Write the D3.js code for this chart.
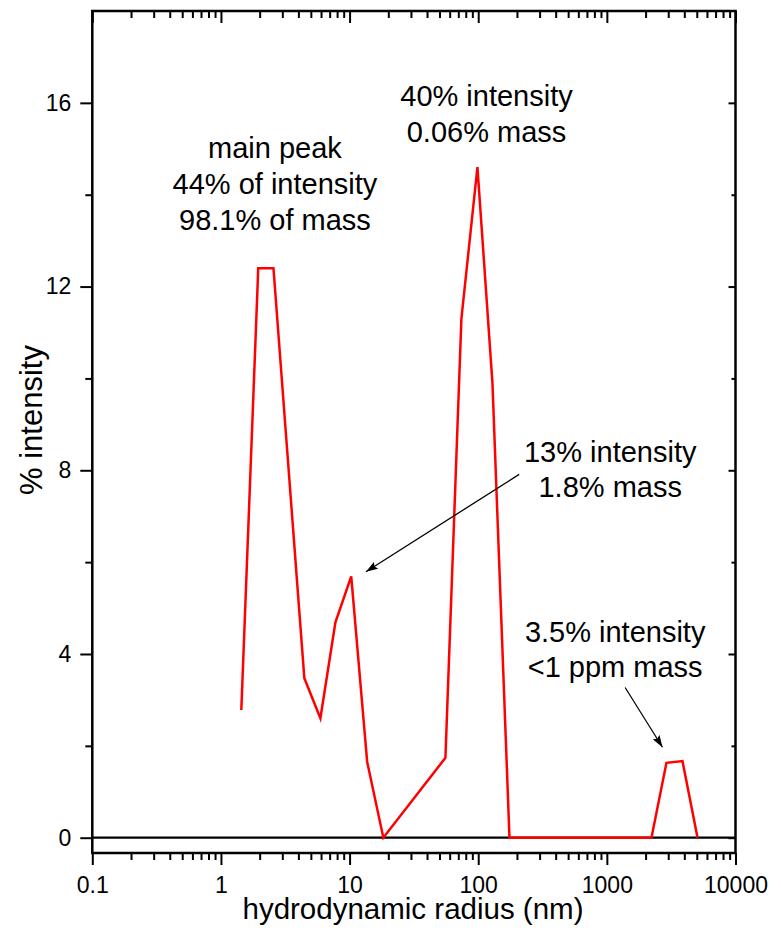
<!DOCTYPE html>
<html>
<head>
<meta charset="utf-8">
<script src="https://cdn.jsdelivr.net/npm/d3@7"></script>
<style>
  body { margin: 0; background: #fff; }
  text { font-family: "Liberation Sans", Arial, sans-serif; fill: #000; }
</style>
</head>
<body>
<div id="chart"></div>
<script>
// size distribution
var radius    = [1.44, 1.95, 2.56, 4.45, 5.93, 7.76, 10.3, 13.7, 18.3, 55.6, 74, 98.6, 129, 175, 2222, 2905, 3870, 5070];
var intensity = [2.78, 12.4, 12.4, 3.47, 2.60, 4.69, 5.69, 1.65, 0, 1.74, 11.3, 14.6, 9.9, 0, 0, 1.63, 1.67, 0];

var xTickValues = [0.1, 1, 10, 100, 1000, 10000];
var xTickLabels = ["0.1", "1", "10", "100", "1000", "10000"];
var yTickValues = [0, 4, 8, 12, 16];
var yMinorValues = [2, 6, 10, 14];

// annotations: anchor (centre, first baseline) in data units, lines of text
var noteText = [
    ["main peak", "44% of intensity", "98.1% of mass"],
    ["40% intensity", "0.06% mass"],
    ["13% intensity", "1.8% mass"],
    ["3.5% intensity", "<1 ppm mass"]
];
var noteX = [2.63, 116, 1062, 1160];
var noteY = [14.80, 15.93, 8.19, 4.27];
var arrowFrom = [[208, 7.91], [1387, 3.27]];
var arrowTo = [[13.4, 5.79], [2706, 1.97]];

var margin = {top: 11, right: 45.5, bottom: 82, left: 92.3};
var width = 781 - margin.left - margin.right;
var height = 935 - margin.top - margin.bottom;

var svg = d3.select("#chart").append("svg")
    .attr("width", 781)
    .attr("height", 935);

var g = svg.append("g")
    .attr("transform", "translate(" + margin.left + "," + margin.top + ")");

var x = d3.scaleLog()
    .domain([0.1, 10000])
    .range([0, width]);

var y = d3.scaleLinear()
    .domain([-0.333, 18])
    .range([height, 0]);

// minor ticks on log axis: 2..9 of each decade
var xMinor = [];
for (var p = -1; p < 4; p++) {
    for (var k = 2; k <= 9; k++) {
        xMinor.push(k * Math.pow(10, p));
    }
}

// bottom axis
var xAxis = d3.axisBottom(x)
    .tickValues(xTickValues)
    .tickFormat(function(d, i){ return xTickLabels[i]; })
    .tickSize(12)
    .tickPadding(12);
g.append("g")
    .attr("class", "x-axis")
    .attr("transform", "translate(0," + height + ")")
    .call(xAxis);
g.append("g")
    .attr("transform", "translate(0," + height + ")")
    .call(d3.axisBottom(x).tickValues(xMinor).tickSize(7).tickFormat(""));

// top axis, ticks inward
g.append("g")
    .call(d3.axisBottom(x).tickValues(xTickValues).tickSize(12).tickFormat(""));
g.append("g")
    .call(d3.axisBottom(x).tickValues(xMinor).tickSize(7).tickFormat(""));

// left axis
g.append("g")
    .attr("class", "y-axis")
    .call(d3.axisLeft(y).tickValues(yTickValues).tickFormat(d3.format("d")).tickSize(12).tickPadding(9));
g.append("g")
    .call(d3.axisLeft(y).tickValues(yMinorValues).tickSize(7).tickFormat(""));

// right axis, ticks inward
g.append("g")
    .attr("transform", "translate(" + width + ",0)")
    .call(d3.axisLeft(y).tickValues(yTickValues).tickSize(7).tickFormat(""));
g.append("g")
    .attr("transform", "translate(" + width + ",0)")
    .call(d3.axisLeft(y).tickValues(yMinorValues).tickSize(4).tickFormat(""));

g.selectAll(".domain").remove();
g.selectAll(".tick line").attr("stroke", "#000").attr("stroke-width", 2);
g.selectAll(".tick text")
    .style("font-family", "'Liberation Sans', Arial, sans-serif")
    .style("font-size", "23px")
    .attr("fill", "#000");

// frame
g.append("rect")
    .attr("x", 0)
    .attr("y", 0)
    .attr("width", width)
    .attr("height", height)
    .attr("fill", "none")
    .attr("stroke", "#000")
    .attr("stroke-width", 2.5);

// zero line
g.append("line")
    .attr("x1", 0)
    .attr("x2", width)
    .attr("y1", y(0))
    .attr("y2", y(0))
    .attr("stroke", "#000")
    .attr("stroke-width", 2.2);

// data line
var points = radius.map(function(r, i){ return {r: r, v: intensity[i]}; });
var line = d3.line()
    .x(function(d){ return x(d.r); })
    .y(function(d){ return y(d.v); });

g.append("path")
    .datum(points)
    .attr("d", line)
    .attr("fill", "none")
    .attr("stroke", "#ff0000")
    .attr("stroke-width", 2.5)
    .attr("stroke-linejoin", "miter");

// arrows
svg.append("defs").append("marker")
    .attr("id", "arrow")
    .attr("viewBox", "0 0 12 8")
    .attr("refX", 12)
    .attr("refY", 4)
    .attr("markerWidth", 12)
    .attr("markerHeight", 8)
    .attr("markerUnits", "userSpaceOnUse")
    .attr("orient", "auto")
    .append("path")
    .attr("d", "M0,0 L12,4 L0,8 L2,4 Z")
    .attr("fill", "#000");

arrowFrom.forEach(function(a, i){
    g.append("line")
        .attr("x1", x(a[0]))
        .attr("y1", y(a[1]))
        .attr("x2", x(arrowTo[i][0]))
        .attr("y2", y(arrowTo[i][1]))
        .attr("stroke", "#000")
        .attr("stroke-width", 1.3)
        .attr("marker-end", "url(#arrow)");
});

// annotation text
noteText.forEach(function(lines, i){
    var t = g.append("text")
        .attr("text-anchor", "middle")
        .attr("x", x(noteX[i]))
        .attr("y", y(noteY[i]))
        .style("font-size", "29px");
    lines.forEach(function(s, j){
        t.append("tspan")
            .attr("x", x(noteX[i]))
            .attr("dy", j === 0 ? 0 : 35.8)
            .text(s);
    });
});

// axis titles
svg.append("text")
    .attr("text-anchor", "middle")
    .attr("x", 413)
    .attr("y", 919)
    .style("font-size", "29.5px")
    .text("hydrodynamic radius (nm)");

svg.append("text")
    .attr("text-anchor", "middle")
    .attr("transform", "translate(42,420) rotate(-90)")
    .style("font-size", "31px")
    .text("% intensity");
</script>
</body>
</html>
